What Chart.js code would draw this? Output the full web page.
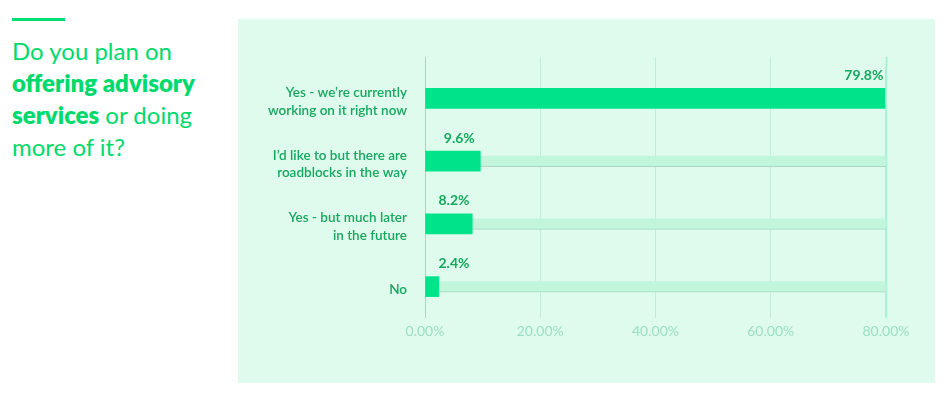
<!DOCTYPE html>
<html>
<head>
<meta charset="utf-8">
<script src="https://cdn.jsdelivr.net/npm/chart.js"></script>
<style>
    html, body { margin: 0; padding: 0; background: #fff; }
    body { width: 946px; height: 395px; position: relative; overflow: hidden; font-family: 'Lato', sans-serif; }
    .rule { position: absolute; left: 12px; top: 18px; width: 53px; height: 3px; background: #00de73; }
    .title { position: absolute; left: 12px; top: 35px; width: 222px; font-size: 24px; line-height: 32px; color: #00d96c; }
    .title b { font-weight: 800; }
    .panel { position: absolute; left: 238px; top: 19px; width: 697px; height: 364px; background: #defbee; }
</style>
</head>
<body>
<div class="rule"></div>
<div class="title">Do you plan on <b>offering advisory services</b> or doing more of it?</div>
<div class="panel"><canvas id="chart" width="697" height="364"></canvas></div>
<script>
const categories = [
    ['Yes - we\u2019re currently', 'working on it right now'],
    ['I\u2019d like to but there are', 'roadblocks in the way'],
    ['Yes - but much later', 'in the future'],
    'No'
];
const shares = [79.8, 9.6, 8.2, 2.4];
const trackValues = [80, 80, 80, 80];
const xTicks = [0, 20, 40, 60, 80];

const labelColor = '#17a75e';
const fontFamily = "'Lato', sans-serif";

// value labels above each bar
const barLabels = {
    id: 'barLabels',
    afterDatasetsDraw(chart) {
        const ctx = chart.ctx;
        const meta = chart.getDatasetMeta(0);
        const x0 = chart.scales.x.getPixelForValue(0);
        ctx.save();
        ctx.font = "bold 14px " + fontFamily;
        ctx.fillStyle = labelColor;
        ctx.textAlign = 'center';
        ctx.textBaseline = 'middle';
        meta.data.forEach((bar, i) => {
            const cx = Math.max(bar.x - 21, x0 + 29);
            ctx.fillText(shares[i].toFixed(1) + '%', cx, bar.y - 23);
        });
        ctx.restore();
    }
};

new Chart(document.getElementById('chart'), {
    type: 'bar',
    data: {
        labels: categories,
        datasets: [
            {
                data: shares,
                backgroundColor: '#00e38b',
                barThickness: 20,
                grouped: false,
                order: 1
            },
            {
                data: trackValues,
                backgroundColor: '#c2f6dc',
                borderColor: '#a9d8c2',
                borderWidth: { top: 0, left: 0, right: 0, bottom: 1 },
                borderSkipped: false,
                barThickness: 11,
                grouped: false,
                order: 2
            }
        ]
    },
    options: {
        indexAxis: 'y',
        responsive: false,
        animation: false,
        layout: { padding: { top: 38, right: 49, bottom: 35, left: 0 } },
        plugins: {
            legend: { display: false },
            tooltip: { enabled: false }
        },
        scales: {
            x: {
                min: 0,
                max: 80,
                afterBuildTicks: (scale) => { scale.ticks = xTicks.map(v => ({ value: v })); },
                afterFit: (scale) => { scale.height = 30; },
                grid: {
                    drawTicks: false,
                    color: (c) => c.tick.value === 0 ? '#a8d6c1' : (c.tick.value === 80 ? '#a6f2d2' : '#c0eedb'),
                    lineWidth: (c) => c.tick.value === 80 ? 2 : 1
                },
                border: { display: false },
                ticks: {
                    padding: 5,
                    color: '#9adfc1',
                    font: { family: fontFamily, size: 14 },
                    callback: (v) => v.toFixed(2) + '%'
                }
            },
            xTop: {
                position: 'top',
                min: 0,
                max: 80,
                afterBuildTicks: (scale) => { scale.ticks = xTicks.map(v => ({ value: v })); },
                grid: {
                    drawOnChartArea: false,
                    drawTicks: true,
                    tickLength: 10,
                    color: (c) => c.tick.value === 0 ? '#a8d6c1' : (c.tick.value === 80 ? '#a6f2d2' : '#c0eedb'),
                    tickWidth: (c) => c.tick.value === 80 ? 2 : 1
                },
                border: { display: false },
                ticks: { display: false }
            },
            y: {
                afterFit: (scale) => { scale.width = 187; },
                grid: { display: false, drawTicks: false },
                border: { display: false },
                ticks: {
                    padding: 18,
                    labelOffset: 3,
                    color: labelColor,
                    font: { family: fontFamily, size: 13.5, weight: '600', lineHeight: 1.3 }
                }
            }
        }
    },
    plugins: [barLabels]
});
</script>
</body>
</html>
